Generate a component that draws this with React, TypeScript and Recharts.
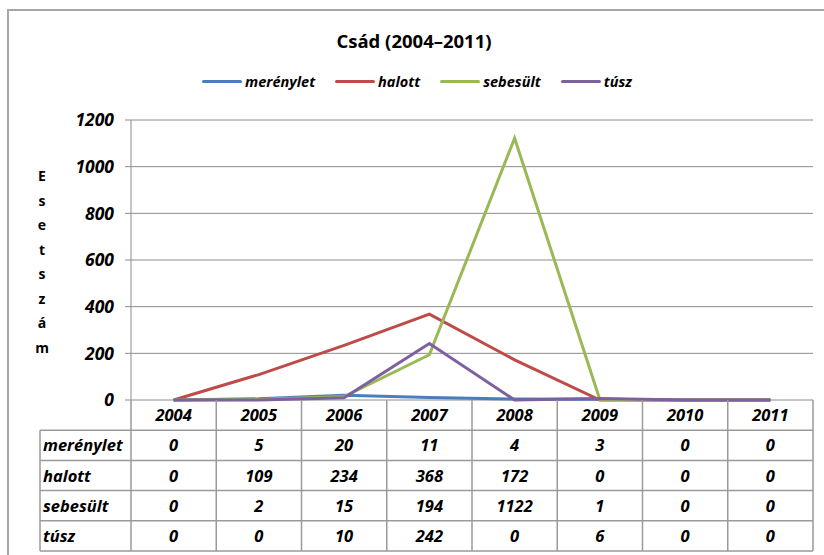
import React from 'react';
import { LineChart, Line, XAxis, YAxis, CartesianGrid, Legend } from 'recharts';

const years = ['2004', '2005', '2006', '2007', '2008', '2009', '2010', '2011'];
const merenylet = [0, 5, 20, 11, 4, 3, 0, 0];
const halott = [0, 109, 234, 368, 172, 0, 0, 0];
const sebesult = [0, 2, 15, 194, 1122, 1, 0, 0];
const tusz = [0, 0, 10, 242, 0, 6, 0, 0];
const yTicks = [0, 200, 400, 600, 800, 1000, 1200];
const axisLabel = 'Esetszám';

const SERIES = [
  { key: 'merenylet', name: 'merénylet', color: '#4a7ebb', values: merenylet },
  { key: 'halott', name: 'halott', color: '#be4b48', values: halott },
  { key: 'sebesult', name: 'sebesült', color: '#98b954', values: sebesult },
  { key: 'tusz', name: 'túsz', color: '#7d60a0', values: tusz },
];

const data = years.map((year, i) => {
  const row: Record<string, any> = { year };
  SERIES.forEach(s => { row[s.key] = s.values[i]; });
  return row;
});

const W = 824;
const H = 555;
const PLOT_LEFT = 131;
const PLOT_RIGHT = 813;
const PLOT_BOTTOM = 400;
const COL_W = (PLOT_RIGHT - PLOT_LEFT) / years.length;
const ROW_H = 30.2;
const LABEL_LEFT = 40;
const FONT = '"Open Sans", "Noto Sans", sans-serif';
const GRID = '#8c8c8c';
const TABLE_LINE = '#9a9a9a';

function LegendBox() {
  return (
    <div style={{ display: 'flex', justifyContent: 'center', alignItems: 'center', height: 24, paddingLeft: 10, fontFamily: FONT, fontWeight: 700, fontStyle: 'italic', fontSize: 14.5 }}>
      {SERIES.map((s, i) => (
        <div key={s.key} style={{ display: 'flex', alignItems: 'center', marginLeft: i === 0 ? 0 : 20 }}>
          <div style={{ width: 40, height: 3, borderRadius: 2, background: s.color, marginRight: 3 }} />
          <span>{s.name}</span>
        </div>
      ))}
    </div>
  );
}

function StackedLabel() {
  return (
    <text x={42} y={181} textAnchor="middle" fontFamily={FONT} fontWeight={700} fontSize={14} fill="#000">
      {axisLabel.split('').map((ch, i) => (
        <tspan key={i} x={42} y={181 + i * 24.5}>{ch}</tspan>
      ))}
    </text>
  );
}

function DataTable() {
  const nRows = SERIES.length + 1;
  const bottom = PLOT_BOTTOM + ROW_H * nRows;
  const textStyle = { fontFamily: FONT, fontWeight: 700, fontStyle: 'italic' as const, fontSize: 16.5 };
  return (
    <svg width={W} height={H} style={{ position: 'absolute', left: 0, top: 0, pointerEvents: 'none' }}>
      {years.map((_, i) => (
        <line key={'v' + i} x1={PLOT_LEFT + COL_W * (i + 1)} x2={PLOT_LEFT + COL_W * (i + 1)} y1={PLOT_BOTTOM} y2={bottom} stroke={TABLE_LINE} strokeWidth={1.5} />
      ))}
      <line x1={PLOT_LEFT} x2={PLOT_LEFT} y1={PLOT_BOTTOM} y2={bottom} stroke={TABLE_LINE} strokeWidth={1.5} />
      <line x1={LABEL_LEFT} x2={LABEL_LEFT} y1={PLOT_BOTTOM + ROW_H} y2={bottom} stroke={TABLE_LINE} strokeWidth={1.5} />
      {SERIES.map((_, r) => (
        <line key={'h' + r} x1={LABEL_LEFT} x2={PLOT_RIGHT} y1={PLOT_BOTTOM + ROW_H * (r + 1)} y2={PLOT_BOTTOM + ROW_H * (r + 1)} stroke={TABLE_LINE} strokeWidth={1.5} />
      ))}
      <line x1={LABEL_LEFT} x2={PLOT_RIGHT} y1={bottom} y2={bottom} stroke={TABLE_LINE} strokeWidth={1.5} />
      {years.map((y, i) => (
        <text key={'y' + i} x={PLOT_LEFT + COL_W * (i + 0.5)} y={PLOT_BOTTOM + ROW_H / 2 + 6} textAnchor="middle" {...textStyle}>{y}</text>
      ))}
      {SERIES.map((s, r) => (
        <g key={s.key}>
          <text x={LABEL_LEFT + 3} y={PLOT_BOTTOM + ROW_H * (r + 1.5) + 6} {...textStyle}>{s.name}</text>
          {s.values.map((v, i) => (
            <text key={i} x={PLOT_LEFT + COL_W * (i + 0.5)} y={PLOT_BOTTOM + ROW_H * (r + 1.5) + 6} textAnchor="middle" {...textStyle}>{v}</text>
          ))}
        </g>
      ))}
    </svg>
  );
}

export default function App() {
  return (
    <div style={{ position: 'absolute', left: 0, top: 0, width: W, height: H, background: '#fff', overflow: 'hidden' }}>
      <div style={{ position: 'absolute', left: 7, top: 9, width: W, height: H, borderLeft: '2px solid #a6a6a6', borderTop: '2px solid #a6a6a6' }} />
      <div style={{ position: 'absolute', left: 0, top: 28, width: 828, textAlign: 'center', fontFamily: FONT, fontWeight: 700, fontSize: 18.5 }}>
        Csád (2004–2011)
      </div>
      <LineChart width={W} height={H} data={data} margin={{ top: 96, right: W - PLOT_RIGHT, bottom: H - PLOT_BOTTOM, left: 0 }} style={{ position: 'absolute', left: 0, top: 0 }}>
        <CartesianGrid vertical={false} stroke={GRID} strokeWidth={1} />
        <XAxis dataKey="year" hide padding={{ left: COL_W / 2, right: COL_W / 2 }} />
        <YAxis
          width={PLOT_LEFT}
          domain={[0, 1200]}
          ticks={yTicks}
          interval={0}
          stroke={GRID}
          tickSize={6}
          tickMargin={11}
          tick={{ fill: '#000', fontFamily: FONT, fontWeight: 700, fontStyle: 'italic', fontSize: 17.5 }}
          label={{ content: StackedLabel }}
        />
        <Legend verticalAlign="top" align="center" content={LegendBox} wrapperStyle={{ top: 69, left: 0, width: W }} />
        {SERIES.map(s => (
          <Line key={s.key} type="linear" dataKey={s.key} name={s.name} stroke={s.color} strokeWidth={3} dot={false} isAnimationActive={false} />
        ))}
      </LineChart>
      <DataTable />
    </div>
  );
}
